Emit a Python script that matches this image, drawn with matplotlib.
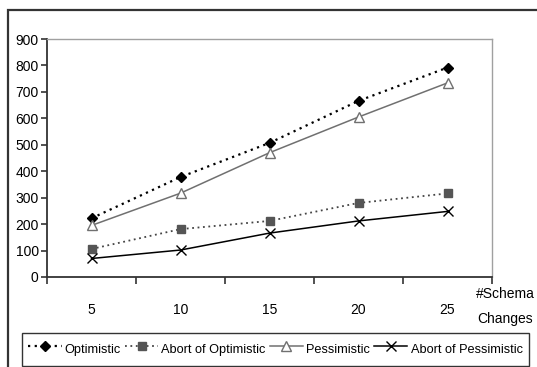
import matplotlib.pyplot as plt
from matplotlib.patches import Rectangle
import numpy as np

plt.rcParams['font.family'] = ['Liberation Sans', 'DejaVu Sans']

# data
changes = ['5', '10', '15', '20', '25']
optimistic = [222, 378, 507, 666, 792]
abort_optimistic = [106, 181, 212, 280, 316]
pessimistic = [195, 317, 470, 605, 734]
abort_pessimistic = [70, 102, 166, 212, 248]

W, H = 537, 367
fig = plt.figure(figsize=(W / 100, H / 100), dpi=100)

# outer frame (cut off at right/bottom like the screenshot)
fig.patches.append(Rectangle((8 / W, -0.1), 1.2, 1 - 10 / H + 0.1, transform=fig.transFigure,
                             fill=False, edgecolor='#333333', linewidth=1.6))

ax = fig.add_axes([47 / W, 1 - 277 / H, 445 / W, 238 / H])
x = np.arange(len(changes)) + 0.5

ax.plot(x, optimistic, linestyle=(0, (1, 2)), color='black', linewidth=1.6,
        marker='D', markersize=5, markerfacecolor='black', markeredgecolor='black',
        label='Optimistic')
ax.plot(x, abort_optimistic, linestyle=(0, (1, 2)), color='#444444', linewidth=1.3,
        marker='s', markersize=5.5, markerfacecolor='#555555', markeredgecolor='#555555',
        label='Abort of Optimistic')
ax.plot(x, pessimistic, linestyle='-', color='#707070', linewidth=1.1,
        marker='^', markersize=6.5, markerfacecolor='white', markeredgecolor='#707070',
        label='Pessimistic')
ax.plot(x, abort_pessimistic, linestyle='-', color='black', linewidth=1.1,
        marker='x', markersize=6.5, markeredgewidth=1.0, label='Abort of Pessimistic')

ax.set_xlim(0, len(changes))
ax.set_ylim(0, 900)
ax.set_yticks(np.arange(0, 901, 100))
ax.set_xticks(np.arange(0, len(changes) + 1))
ax.set_xticklabels([])
ax.set_xticks(x, minor=True)
ax.set_xticklabels(changes, minor=True)
ax.tick_params(axis='x', which='minor', length=0, pad=19, labelsize=10)
ax.tick_params(axis='x', which='major', length=5, direction='out', width=1.2, color='#333333')
ax.tick_params(axis='y', length=4, direction='out', width=1.2, color='#333333',
               labelsize=10, pad=2)

for side in ['top', 'right']:
    ax.spines[side].set_color('#a0a0a0')
    ax.spines[side].set_linewidth(1.0)
for side in ['left', 'bottom']:
    ax.spines[side].set_color('#333333')
    ax.spines[side].set_linewidth(1.3)

fig.text(505 / W, 1 - 294 / H, '#Schema', ha='center', va='center', fontsize=10)
fig.text(505 / W, 1 - 319 / H, 'Changes', ha='center', va='center', fontsize=10)

leg_h = 40 / H
leg = fig.legend(loc='upper left', bbox_to_anchor=(22 / W, 1 - 333 / H - leg_h, 507 / W, leg_h),
                 mode='expand', ncol=4, frameon=True, fancybox=False, fontsize=9.2,
                 handlelength=2.6, handleheight=2.0, handletextpad=0.25, columnspacing=0.4,
                 borderpad=0.5, borderaxespad=0)
leg.get_frame().set_edgecolor('black')
leg.get_frame().set_linewidth(1.0)

fig.savefig('out.png', dpi=100)
